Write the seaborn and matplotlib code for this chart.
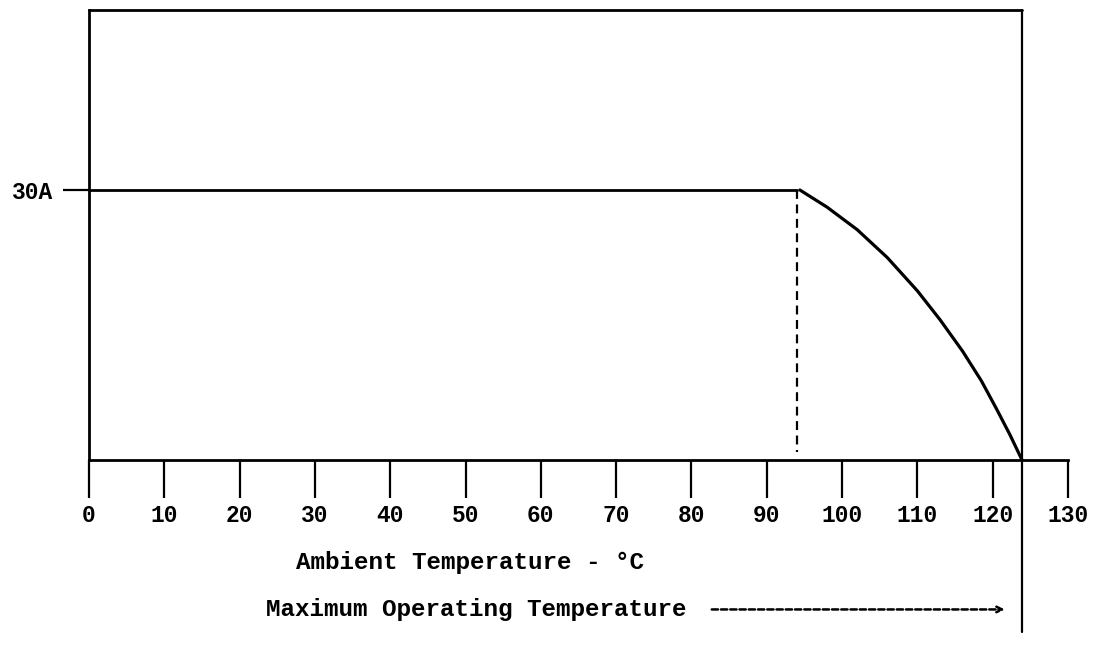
import matplotlib
matplotlib.use('Agg')
import matplotlib.pyplot as plt
import seaborn as sns

# Derating curve data
flat_temp = [0, 94]
flat_current = [30, 30]
curve_temp = [94.4, 98.0, 102.0, 106.0, 110.0, 113.0, 116.0, 118.5, 120.5, 122.3, 123.9]
curve_current = [30, 28.1, 25.6, 22.5, 18.8, 15.6, 12.1, 8.8, 5.7, 2.8, 0]
knee_temp = 94
max_temp = 123.9
x_ticks = list(range(0, 131, 10))
y_ticks = [30]
y_tick_labels = ['30A']

sns.set_style('white')
plt.rcParams['font.family'] = ['Liberation Mono', 'DejaVu Sans']
plt.rcParams['text.color'] = 'black'

fig = plt.figure(figsize=(10.93, 6.57), dpi=100)
ax = fig.add_axes([0.0814, 0.2998, 0.8957, 0.685])

# flat part and the falling curve
sns.lineplot(x=flat_temp, y=flat_current, ax=ax, color='black', lw=2)
sns.lineplot(x=curve_temp, y=curve_current, ax=ax, color='black', lw=2.3)
# dashed marker at knee
ax.plot([knee_temp, knee_temp], [30, 0.9], color='black', lw=1.6, ls=(0, (4, 2.5)))
# top of the frame and the max temperature line
ax.plot([0, max_temp], [50, 50], color='black', lw=2, clip_on=False)
ax.plot([max_temp, max_temp], [50, -19.1], color='black', lw=1.6, clip_on=False)

ax.set_xlim(0, 130)
ax.set_ylim(0, 50)
ax.set_xticks(x_ticks)
ax.set_xticklabels([str(t) for t in x_ticks], fontsize=16.5, fontweight='bold', color='black')
ax.set_yticks(y_ticks)
ax.set_yticklabels(y_tick_labels, fontsize=16.5, fontweight='bold', color='black')
ax.tick_params(axis='x', bottom=True, direction='out', length=27, width=1.6, color='black', pad=5)
ax.tick_params(axis='y', left=True, direction='out', length=19, width=1.6, color='black', pad=7)

for side in ['top', 'right']:
    ax.spines[side].set_visible(False)
for side in ['left', 'bottom']:
    ax.spines[side].set_color('black')
    ax.spines[side].set_linewidth(2)

ax.text(50.6, -11.4, 'Ambient Temperature - \u00b0C', fontsize=17.5, fontweight='bold',
        ha='center', va='center', clip_on=False)
ax.text(23.5, -16.6, 'Maximum Operating Temperature', fontsize=17.5, fontweight='bold',
        ha='left', va='center', clip_on=False)
ax.annotate('', xy=(121.6, -16.6), xytext=(82.7, -16.6), annotation_clip=False,
            arrowprops=dict(arrowstyle='->', color='black', lw=1.8, linestyle=(0, (2.5, 1.2)),
                            shrinkA=0, shrinkB=0))

fig.savefig('out.png', dpi=100, facecolor='white')
